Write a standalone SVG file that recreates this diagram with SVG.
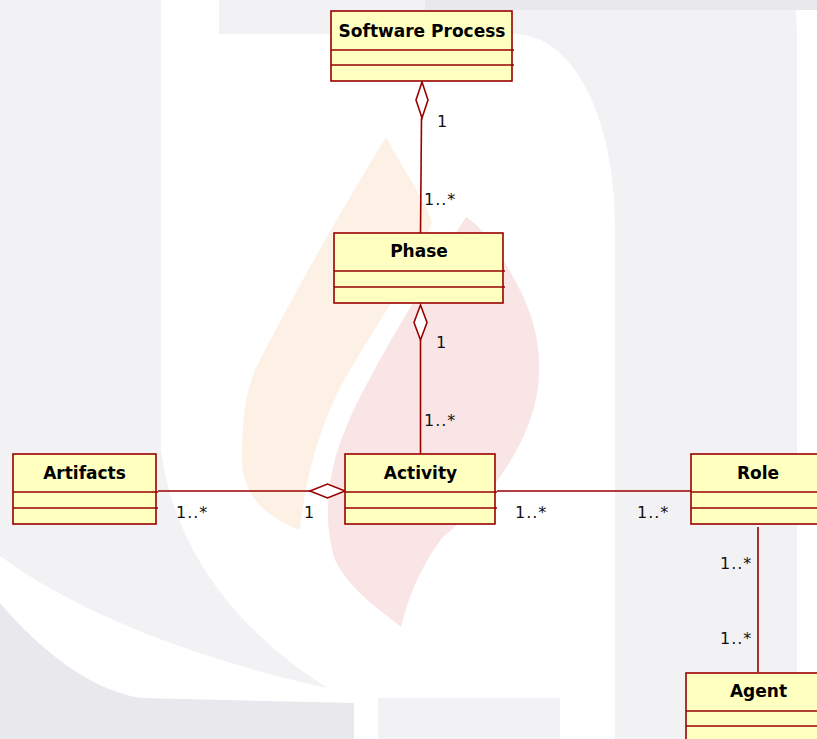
<svg xmlns="http://www.w3.org/2000/svg" width="817" height="739" viewBox="0 0 817 739">
<style>
.cls{fill:#FFFFC0;stroke:#990000;stroke-width:1.6}
.div{stroke:#990000;stroke-width:1.6}
.name{font-family:"DejaVu Sans",Verdana,sans-serif;font-weight:bold;font-size:17px;text-anchor:middle;fill:#000}
.mult{font-family:"DejaVu Sans",Verdana,sans-serif;font-size:16px;letter-spacing:1px;fill:#111}
.edge{stroke:#990000;stroke-width:1.6;fill:none}
.agg{fill:#fff;stroke:#990000;stroke-width:1.6}
.wl{fill:#F2F2F5}
.wd{fill:#E8E8ED}
</style>
<g id="background">
  <rect width="817" height="739" fill="#fff"/>
  <path class="wl" d="M0,0 H161 V450 C175,560 250,640 328,688 C200,660 80,615 0,556 Z"/>
  <path class="wl" d="M219,0 H790 C795,0 797,10 797,40 V739 H615 V226 C615,120 575,34 513,34 H219 Z"/>
  <rect class="wl" x="378" y="698" width="182" height="41"/>
  <path class="wd" d="M425,0 H817 V10 H425 Z"/>
  <path class="wd" d="M0,603 C40,650 90,690 141,698 L354,703 V739 H0 Z"/>
  <path fill="#FDF1E6" d="M386,137 C360,180 300,280 255,370 C245,395 242,420 242,460 C242,490 260,515 300,530 C305,480 320,420 350,370 C380,320 420,260 432,222 C420,190 400,165 386,137 Z"/>
  <path fill="#F9E4E6" d="M466,217 C480,225 500,250 520,290 C535,320 540,345 539,375 C537,430 500,490 443,537 C425,560 410,590 401,627 C380,610 350,590 335,560 C322,520 328,470 345,430 C365,380 420,290 466,217 Z"/>
</g>
<g id="connectors">
  <line class="edge" x1="421.5" y1="118" x2="420.5" y2="233"/>
  <polygon class="agg" points="422,82 416,100 422,118 428,100"/>
  <line class="edge" x1="420.5" y1="340" x2="420.5" y2="454"/>
  <polygon class="agg" points="420.5,305 414,322.5 420.5,340 427,322.5"/>
  <line class="edge" x1="158" y1="491" x2="310" y2="491"/>
  <polygon class="agg" points="310,491 327.5,484 345,491 327.5,498"/>
  <line class="edge" x1="497" y1="491" x2="691" y2="491"/>
  <line class="edge" x1="758" y1="527" x2="758" y2="672"/>
  <text class="mult" x="437" y="127">1</text>
  <text class="mult" x="424" y="205">1..*</text>
  <text class="mult" x="436" y="348">1</text>
  <text class="mult" x="424" y="426">1..*</text>
  <text class="mult" x="176" y="518">1..*</text>
  <text class="mult" x="304" y="518">1</text>
  <text class="mult" x="515" y="518">1..*</text>
  <text class="mult" x="637" y="518">1..*</text>
  <text class="mult" x="720" y="569">1..*</text>
  <text class="mult" x="720" y="644">1..*</text>
</g>
<g id="software-process">
  <rect class="cls" x="331" y="11" width="181" height="70"/>
  <line class="div" x1="331" y1="50" x2="514" y2="50"/>
  <line class="div" x1="331" y1="65" x2="514" y2="65"/>
  <text class="name" x="422" y="37">Software Process</text>
</g>
<g id="phase">
  <rect class="cls" x="334" y="233" width="169" height="70"/>
  <line class="div" x1="334" y1="271" x2="505" y2="271"/>
  <line class="div" x1="334" y1="287" x2="505" y2="287"/>
  <text class="name" x="419" y="257">Phase</text>
</g>
<g id="artifacts">
  <rect class="cls" x="13" y="454" width="143" height="70"/>
  <line class="div" x1="13" y1="492" x2="158" y2="492"/>
  <line class="div" x1="13" y1="508" x2="158" y2="508"/>
  <text class="name" x="84.5" y="479">Artifacts</text>
</g>
<g id="activity">
  <rect class="cls" x="345" y="454" width="150" height="70"/>
  <line class="div" x1="345" y1="492" x2="497" y2="492"/>
  <line class="div" x1="345" y1="508" x2="497" y2="508"/>
  <text class="name" x="420.5" y="479">Activity</text>
</g>
<g id="role">
  <rect class="cls" x="691" y="454" width="134" height="70"/>
  <line class="div" x1="691" y1="492" x2="825" y2="492"/>
  <line class="div" x1="691" y1="508" x2="825" y2="508"/>
  <text class="name" x="758" y="479">Role</text>
</g>
<g id="agent">
  <rect class="cls" x="686" y="673" width="145" height="70"/>
  <line class="div" x1="686" y1="711" x2="831" y2="711"/>
  <line class="div" x1="686" y1="726" x2="831" y2="726"/>
  <text class="name" x="758.5" y="697">Agent</text>
</g>
</svg>
